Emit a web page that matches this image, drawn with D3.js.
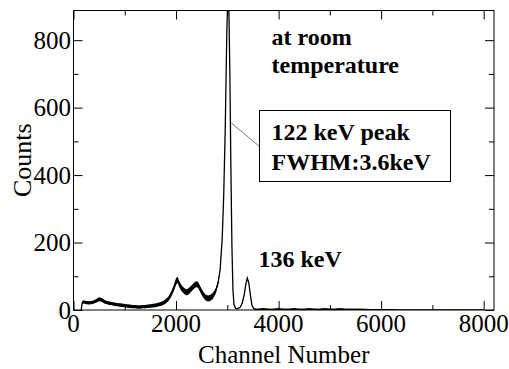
<!DOCTYPE html>
<html>
<head>
<meta charset="utf-8">
<script src="https://cdn.jsdelivr.net/npm/d3@7"></script>
<style>
  html, body { margin: 0; padding: 0; background: #fff; }
  svg { display: block; }
</style>
</head>
<body>
<div id="chart"></div>
<script>
// Spectrum: channel, mean counts, width of the noise band
const channels = [
  150, 170, 200, 250, 300, 350, 400, 450, 500, 550, 600, 650, 700, 750, 800, 850, 900, 950,
  1000, 1050, 1100, 1150, 1200, 1250, 1300, 1350, 1400, 1450, 1500, 1550, 1600, 1650, 1700,
  1750, 1800, 1850, 1900, 1950, 2000, 2030, 2060, 2100, 2150, 2200, 2250, 2300, 2350, 2400,
  2430, 2470, 2520, 2570, 2620, 2670, 2720, 2770, 2820, 2860, 2900, 2930, 2960, 2990, 3010,
  3030, 3050, 3070, 3090, 3110, 3130, 3160, 3200, 3250, 3290, 3330, 3360, 3390, 3420, 3450,
  3480, 3510, 3550, 3600, 3700, 3800, 3900, 4000, 4100, 4200, 4300, 4400, 4500, 4600, 4700,
  4800, 4900, 5000, 5100, 5200, 5300, 5400, 5500, 5600, 5700, 5800, 5900, 6000, 6100, 6200,
  6300, 6500, 7000, 7500, 8000
];
const counts = [
  0, 22, 24, 22, 21, 22, 24, 28, 32, 30, 25, 22, 20, 19, 17, 16, 15, 14,
  13, 12, 11, 10, 10, 9, 9, 10, 10, 11, 12, 13, 14, 16, 18,
  21, 26, 33, 45, 62, 84, 90, 78, 66, 58, 52, 56, 64, 72, 77,
  74, 62, 48, 38, 34, 36, 42, 55, 80, 120, 210, 340, 540, 820, 930,
  900, 700, 420, 190, 60, 16, 5, 4, 8, 20, 45, 75, 95, 80, 45,
  15, 5, 2, 2, 3, 2, 2, 3, 2, 2, 3, 2, 2, 3, 2,
  2, 3, 2, 2, 3, 2, 2, 2, 2, 2, 1, 1, 1, 1, 1,
  0, 0, 0, 0, 0
];
const noise = [
  0, 9, 10, 10, 10, 10, 10, 11, 12, 11, 11, 10, 10, 10, 10, 10, 10, 10,
  10, 10, 10, 10, 10, 10, 10, 10, 10, 10, 10, 11, 11, 11, 12,
  12, 13, 14, 16, 18, 20, 18, 18, 18, 18, 18, 18, 18, 18, 18,
  18, 18, 18, 18, 18, 18, 18, 16, 12, 6, 2, 0, 0, 0, 0,
  0, 0, 0, 0, 0, 0, 3, 3, 3, 4, 4, 4, 3, 3, 3,
  3, 3, 3, 3, 4, 3, 4, 4, 3, 4, 4, 3, 4, 4, 3,
  4, 4, 3, 4, 4, 3, 3, 3, 3, 2, 2, 2, 2, 2, 2,
  0, 0, 0, 0, 0
];

const xMajor = [0, 2000, 4000, 6000, 8000];
const xMinor = [1000, 3000, 5000, 7000];
const yMajor = [0, 200, 400, 600, 800];
const yMinor = [100, 300, 500, 700];

const FONT = '"Liberation Serif", "DejaVu Serif", Times, serif';
const W = 509, H = 369;
const frame = { left: 73.5, top: 10.5, right: 494, bottom: 310 };

const svg = d3.select('#chart').append('svg')
  .attr('width', W)
  .attr('height', H)
  .attr('font-family', FONT);

const x = d3.scaleLinear().domain([0, 8192]).range([frame.left, 493.5]);
const y = d3.scaleLinear().domain([0, 888]).range([frame.bottom, frame.top]);

svg.append('clipPath').attr('id', 'clip')
  .append('rect')
  .attr('x', frame.left).attr('y', frame.top)
  .attr('width', frame.right - frame.left)
  .attr('height', frame.bottom - frame.top);

const spectrum = channels.map((c, i) => ({ c, n: counts[i], s: noise[i] }));

const plot = svg.append('g').attr('clip-path', 'url(#clip)');

// noise band
plot.append('path')
  .datum(spectrum)
  .attr('fill', '#000')
  .attr('d', d3.area()
    .x(d => x(d.c))
    .y0(d => y(Math.max(0, d.n - d.s / 2)))
    .y1(d => y(d.n + d.s / 2)));

// spectrum line
plot.append('path')
  .datum(spectrum)
  .attr('fill', 'none')
  .attr('stroke', '#000')
  .attr('stroke-width', 1.3)
  .attr('d', d3.line().x(d => x(d.c)).y(d => y(d.n)));

// ticks, all pointing inward
function ticks(axis, vals, size, transform) {
  const g = svg.append('g')
    .attr('transform', transform)
    .call(axis.tickValues(vals).tickSize(-size).tickFormat(''));
  g.select('.domain').remove();
  g.selectAll('line').attr('stroke', '#000');
}
ticks(d3.axisBottom(x), xMajor, 9, `translate(0,${frame.bottom})`);
ticks(d3.axisBottom(x), xMinor, 5, `translate(0,${frame.bottom})`);
ticks(d3.axisTop(x), xMajor, 9, `translate(0,${frame.top})`);
ticks(d3.axisTop(x), xMinor, 5, `translate(0,${frame.top})`);
ticks(d3.axisLeft(y), yMajor, 9, `translate(${frame.left},0)`);
ticks(d3.axisLeft(y), yMinor, 5, `translate(${frame.left},0)`);
ticks(d3.axisRight(y), yMajor, 9, `translate(${frame.right},0)`);
ticks(d3.axisRight(y), yMinor, 5, `translate(${frame.right},0)`);

// frame
svg.append('rect')
  .attr('x', frame.left).attr('y', frame.top)
  .attr('width', frame.right - frame.left)
  .attr('height', frame.bottom - frame.top)
  .attr('fill', 'none')
  .attr('stroke', '#000')
  .attr('stroke-width', 1);

// tick labels
svg.selectAll('.xl').data(xMajor).enter().append('text')
  .attr('x', d => x(d))
  .attr('y', 332)
  .attr('text-anchor', 'middle')
  .attr('font-family', FONT)
  .attr('font-size', 25)
  .text(d => d);

svg.selectAll('.yl').data(yMajor).enter().append('text')
  .attr('x', 71)
  .attr('y', d => y(d))
  .attr('dy', '0.34em')
  .attr('text-anchor', 'end')
  .attr('font-family', FONT)
  .attr('font-size', 25)
  .text(d => d);

// axis titles
svg.append('text')
  .attr('x', (frame.left + frame.right) / 2)
  .attr('y', 363)
  .attr('text-anchor', 'middle')
  .attr('font-family', FONT)
  .attr('font-size', 25)
  .text('Channel Number');

svg.append('text')
  .attr('transform', `translate(31,${(frame.top + frame.bottom) / 2}) rotate(-90)`)
  .attr('text-anchor', 'middle')
  .attr('font-family', FONT)
  .attr('font-size', 26)
  .text('Counts');

// annotations
const bold = (tx, ty, s) => svg.append('text')
  .attr('x', tx).attr('y', ty)
  .attr('font-family', FONT)
  .attr('font-size', 24)
  .attr('font-weight', 'bold')
  .text(s);

bold(271.5, 45, 'at room');
bold(271.5, 73, 'temperature');

const box = { x: 259.5, y: 110.5, w: 191, h: 71 };
svg.append('line')
  .attr('x1', x(3075)).attr('y1', y(555))
  .attr('x2', box.x).attr('y2', 146.5)
  .attr('stroke', '#777')
  .attr('stroke-width', 1);
svg.append('rect')
  .attr('x', box.x).attr('y', box.y)
  .attr('width', box.w).attr('height', box.h)
  .attr('fill', '#fff')
  .attr('stroke', '#000');
bold(271.5, 140, '122 keV peak');
bold(271.5, 170, 'FWHM:3.6keV');
bold(258.5, 267, '136 keV');
</script>
</body>
</html>
